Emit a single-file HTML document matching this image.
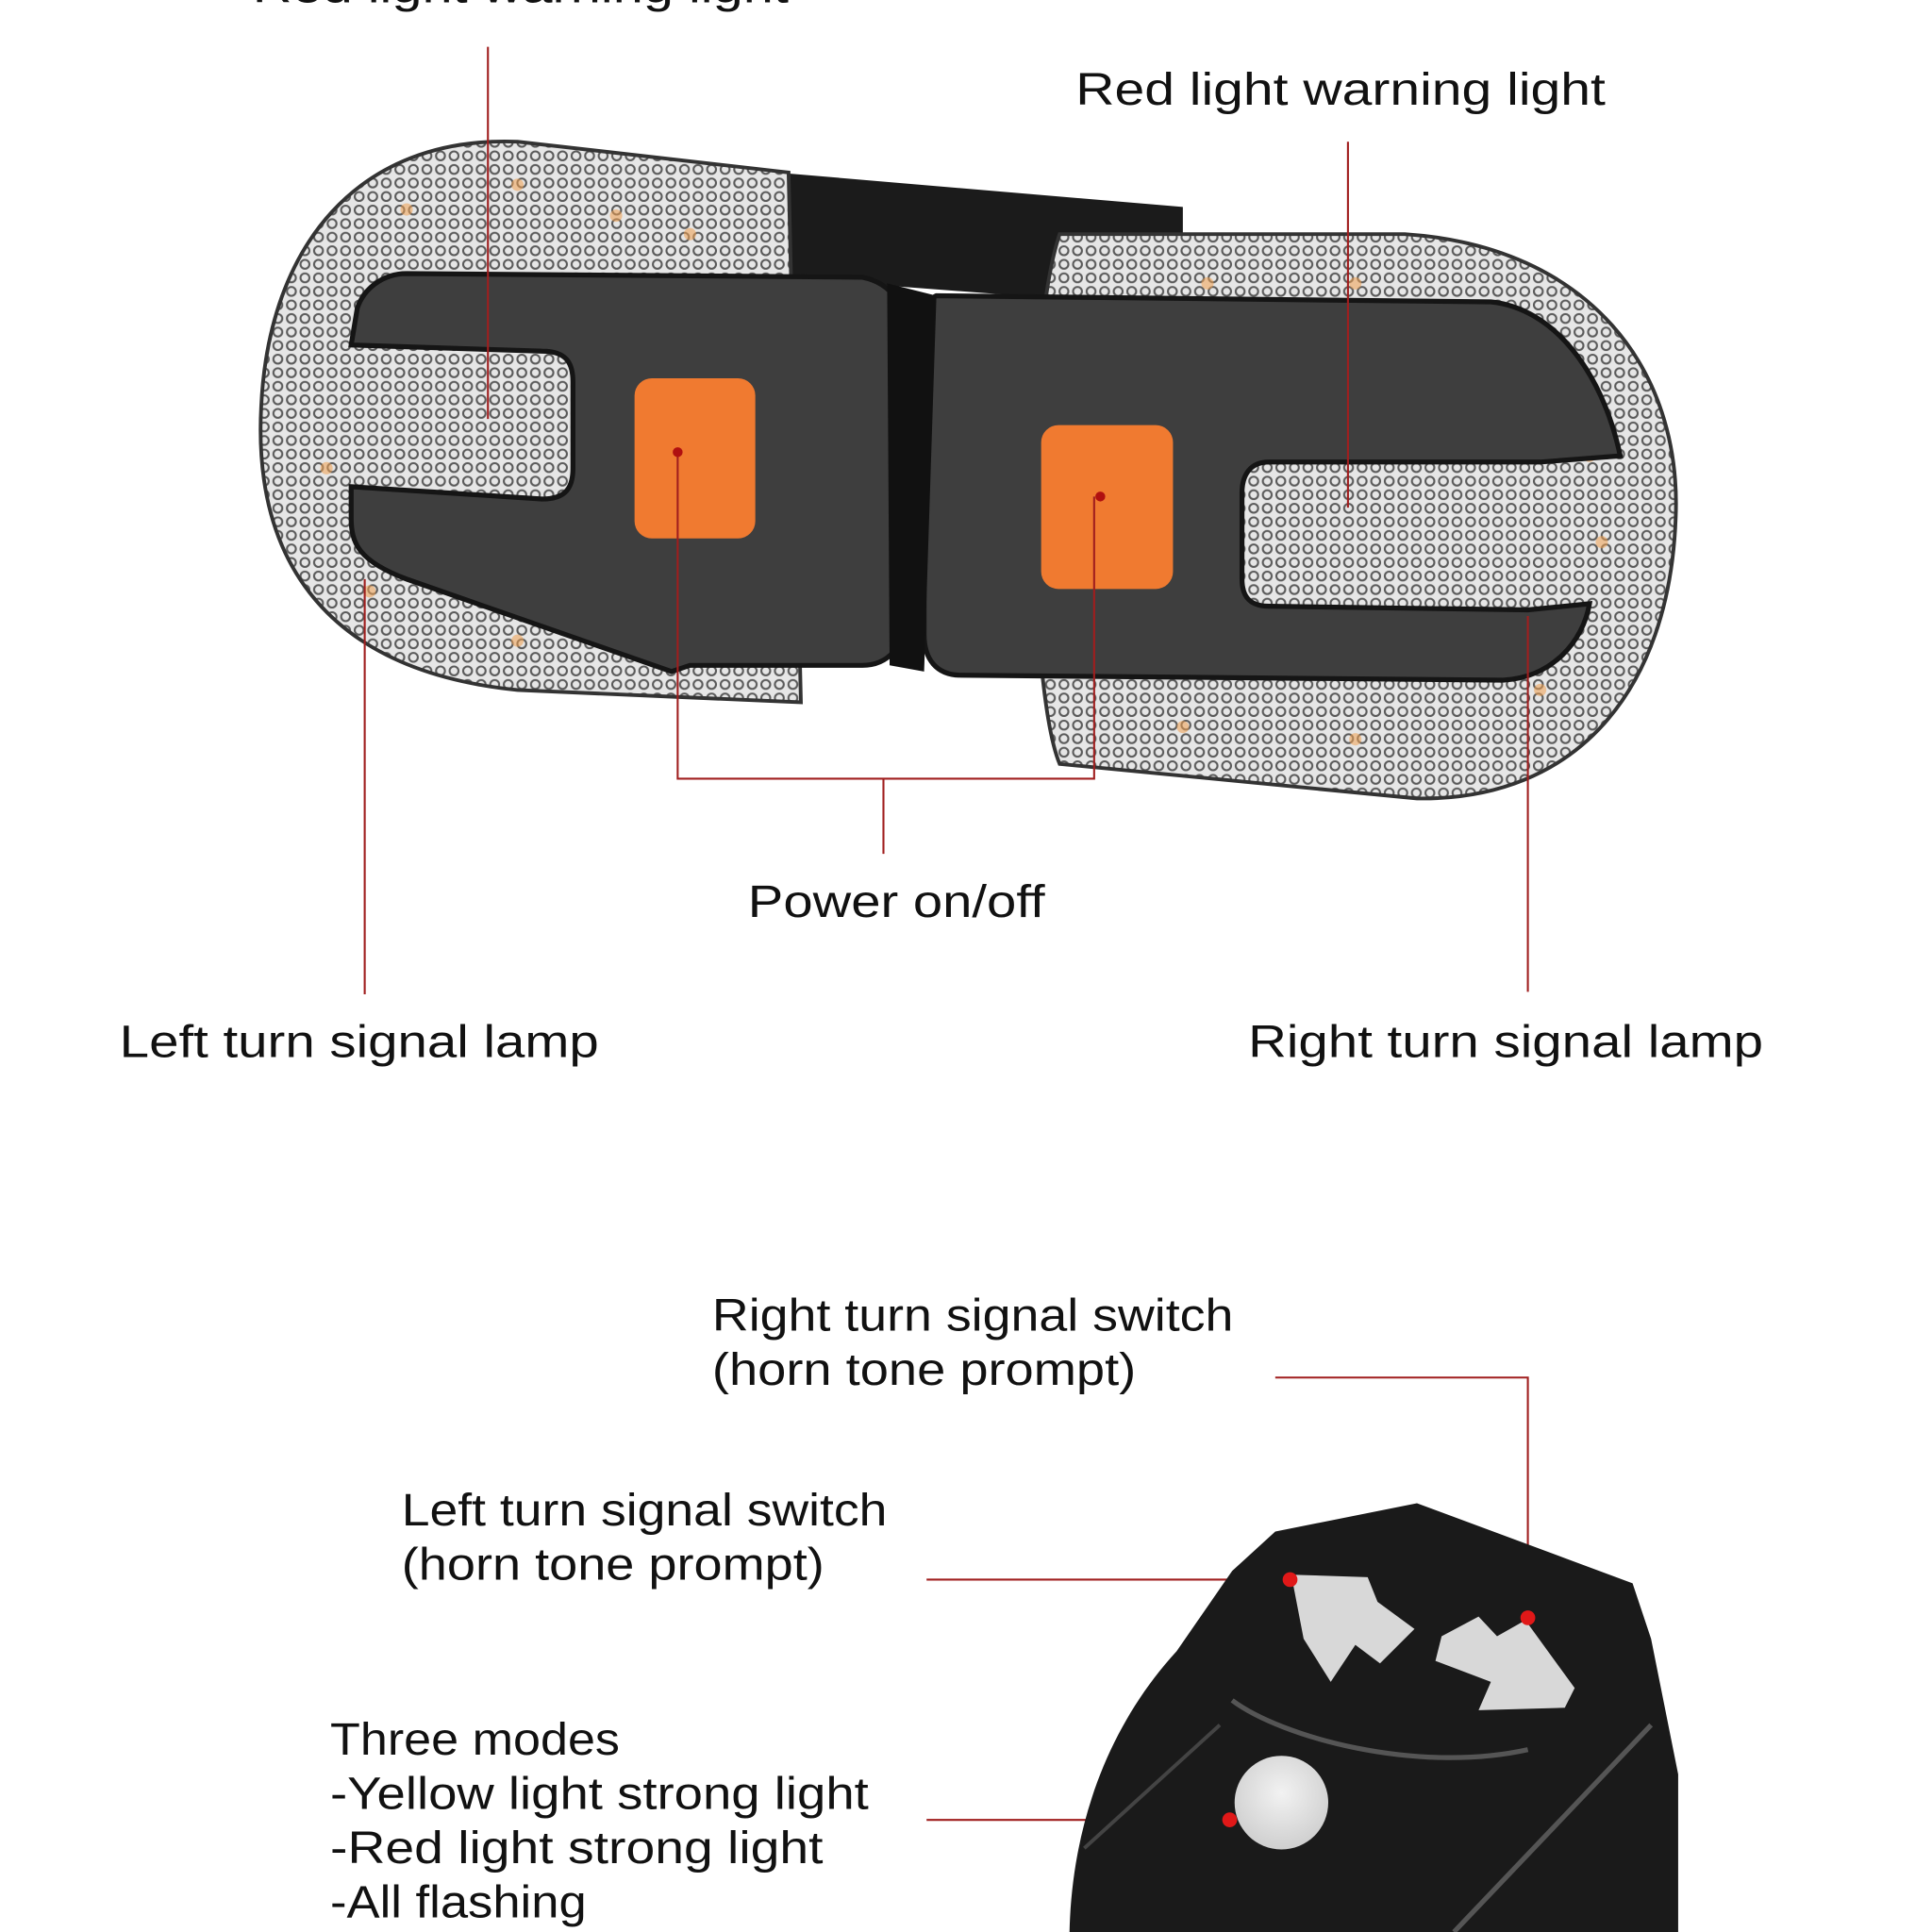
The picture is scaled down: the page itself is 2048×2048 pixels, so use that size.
<!DOCTYPE html>
<html><head><meta charset="utf-8"><style>
html,body{margin:0;padding:0;background:#fff;}
svg{display:block}
text{font-family:"Liberation Sans",sans-serif;fill:#111;font-size:37px;}
</style></head><body>
<svg width="2048" height="2048" viewBox="0 0 1568 1568" xmlns="http://www.w3.org/2000/svg">
<defs>
<pattern id="dots" width="11" height="11" patternUnits="userSpaceOnUse">
<rect width="11" height="11" fill="#e6e6e6"/>
<circle cx="5.5" cy="5.5" r="3.6" fill="none" stroke="#5a5a5a" stroke-width="1.6"/>
</pattern>
<radialGradient id="btn" cx="0.5" cy="0.4" r="0.6"><stop offset="0" stop-color="#f2f2f2"/><stop offset="1" stop-color="#cfcfcf"/></radialGradient>
</defs>
<rect width="1568" height="1568" fill="#fff"/>

<path d="M630 140 L960 168 L960 250 L630 225 Z" fill="#1b1b1b"/>
<path d="M420 115 L640 140 L650 570 L420 560 C270 545 205 460 212 330 C218 200 290 110 420 115 Z" fill="url(#dots)" stroke="#333" stroke-width="3"/>
<path d="M860 190 L1140 190 C1290 200 1365 300 1360 420 C1355 560 1280 650 1150 648 L860 620 C835 560 830 280 860 190 Z" fill="url(#dots)" stroke="#333" stroke-width="3"/>
<g fill="#f0a050" opacity="0.55">
<circle cx="330" cy="170" r="5"/><circle cx="420" cy="150" r="5"/><circle cx="500" cy="175" r="5"/><circle cx="560" cy="190" r="5"/>
<circle cx="265" cy="380" r="5"/><circle cx="300" cy="480" r="5"/><circle cx="420" cy="520" r="5"/><circle cx="520" cy="525" r="5"/>
<circle cx="980" cy="230" r="5"/><circle cx="1100" cy="230" r="5"/><circle cx="1200" cy="270" r="5"/><circle cx="1290" cy="370" r="5"/>
<circle cx="1300" cy="440" r="5"/><circle cx="1250" cy="560" r="5"/><circle cx="1100" cy="600" r="5"/><circle cx="960" cy="590" r="5"/>
</g>
<path d="M330 222 L700 225 C725 230 735 250 735 270 L735 500 C735 525 720 540 700 540 L560 540 L545 545 L330 470 C290 455 285 440 285 420 L285 395 L440 405 C460 405 465 395 465 380 L465 310 C465 295 460 285 440 285 L285 280 L290 250 C295 235 310 222 330 222 Z" fill="#3e3e3e" stroke="#151515" stroke-width="4"/>
<path d="M760 240 L1210 245 C1260 250 1300 300 1315 370 L1250 375 L1030 375 C1015 375 1008 385 1008 400 L1008 470 C1008 485 1015 492 1030 492 L1240 495 L1290 490 C1285 520 1260 550 1220 552 L780 548 C760 548 750 535 750 515 L750 270 C750 250 755 242 760 240 Z" fill="#3e3e3e" stroke="#151515" stroke-width="4"/>
<path d="M720 230 L760 240 L750 545 L722 540 Z" fill="#111"/>
<rect x="515" y="307" width="98" height="130" rx="14" fill="#f07a30"/>
<rect x="845" y="345" width="107" height="133" rx="14" fill="#f07a30"/>

<g stroke="#a01e1e" stroke-width="1.6" fill="none">
<line x1="396" y1="38" x2="396" y2="340"/>
<line x1="1094" y1="115" x2="1094" y2="412"/>
<polyline points="550,367 550,632 888,632 888,403"/>
<line x1="717" y1="632" x2="717" y2="693"/>
<line x1="296" y1="470" x2="296" y2="807"/>
<line x1="1240" y1="500" x2="1240" y2="805"/>
<polyline points="1035,1118 1240,1118 1240,1313"/>
<line x1="752" y1="1282" x2="1047" y2="1282"/>
<line x1="752" y1="1477" x2="998" y2="1477"/>
</g>
<circle cx="550" cy="367" r="4" fill="#b01010"/>
<circle cx="893" cy="403" r="4" fill="#b01010"/>

<g>
<text x="205" y="2" textLength="435" lengthAdjust="spacingAndGlyphs">Red light warning light</text>
<text x="873" y="85" textLength="430" lengthAdjust="spacingAndGlyphs">Red light warning light</text>
<text x="607" y="744" textLength="241" lengthAdjust="spacingAndGlyphs">Power on/off</text>
<text x="97" y="858" textLength="389" lengthAdjust="spacingAndGlyphs">Left turn signal lamp</text>
<text x="1013" y="858" textLength="418" lengthAdjust="spacingAndGlyphs">Right turn signal lamp</text>
<text x="578" y="1080" textLength="423" lengthAdjust="spacingAndGlyphs">Right turn signal switch</text>
<text x="578" y="1124" textLength="344" lengthAdjust="spacingAndGlyphs">(horn tone prompt)</text>
<text x="326" y="1238" textLength="394" lengthAdjust="spacingAndGlyphs">Left turn signal switch</text>
<text x="326" y="1282" textLength="343" lengthAdjust="spacingAndGlyphs">(horn tone prompt)</text>
<text x="268" y="1424" textLength="235" lengthAdjust="spacingAndGlyphs">Three modes</text>
<text x="268" y="1468" textLength="437" lengthAdjust="spacingAndGlyphs">-Yellow light strong light</text>
<text x="268" y="1512" textLength="400" lengthAdjust="spacingAndGlyphs">-Red light  strong light</text>
<text x="268" y="1556" textLength="208" lengthAdjust="spacingAndGlyphs">-All flashing</text>
</g>

<path d="M1035 1243 L1150 1220 L1325 1285 L1340 1330 L1362 1440 L1362 1568 L868 1568 C870 1480 900 1400 955 1340 L1000 1275 Z" fill="#1a1a1a"/>
<path d="M1000 1380 C1040 1410 1150 1440 1240 1420" stroke="#555" stroke-width="4" fill="none"/>
<path d="M1180 1568 L1340 1400" stroke="#555" stroke-width="4" fill="none"/>
<path d="M880 1500 L990 1400" stroke="#444" stroke-width="3" fill="none"/>
<path d="M1048 1278 L1110 1280 L1118 1300 L1148 1322 L1120 1350 L1100 1335 L1080 1365 L1058 1330 Z" fill="#d8d8d8"/>
<path d="M1170 1328 L1200 1312 L1215 1328 L1238 1315 L1278 1370 L1270 1386 L1200 1388 L1210 1365 L1165 1348 Z" fill="#d8d8d8"/>
<circle cx="1040" cy="1463" r="38" fill="url(#btn)"/>
<circle cx="1047" cy="1282" r="6" fill="#e01818"/>
<circle cx="1240" cy="1313" r="6" fill="#e01818"/>
<circle cx="998" cy="1477" r="6" fill="#e01818"/>
</svg>
</body></html>
